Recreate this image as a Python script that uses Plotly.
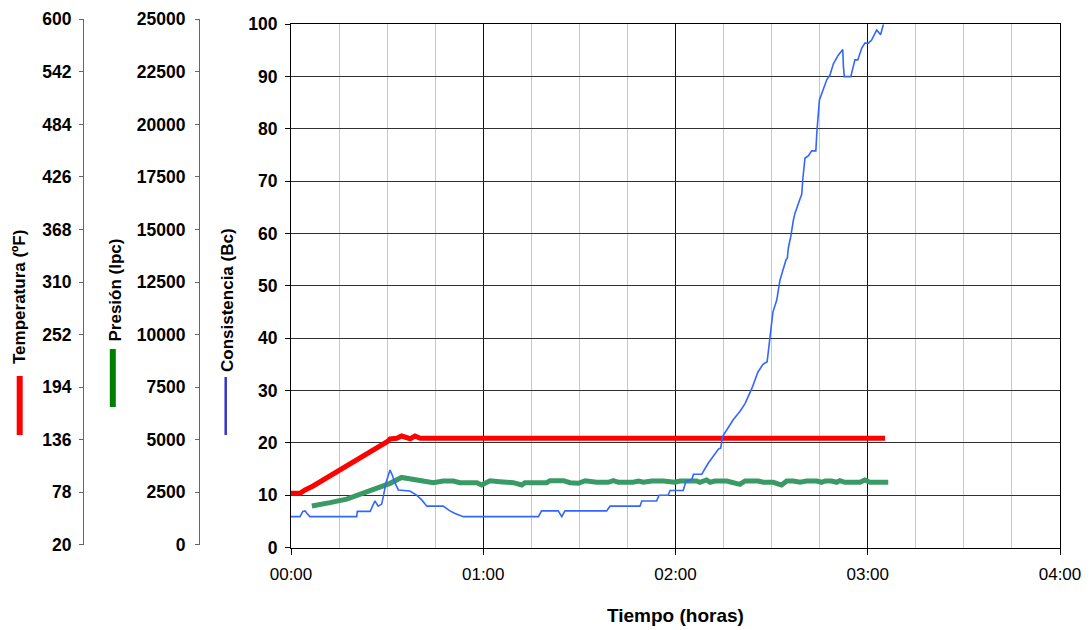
import pandas as pd
import plotly.graph_objects as go

# ---------------- data (time in minutes from start) ----------------
temp_min = [0, 2.8, 4.4, 6.9, 30.0, 30.9, 33.0, 34.5, 37.2, 38.7, 40.3, 185.4]
temp_f = [76.7, 76.7, 80.4, 84.8, 133.7, 136.7, 137.5, 140.0, 137.0, 140.0, 137.5, 137.5]

pres_min = [6.5, 8.4, 12.2, 17.4, 22.6, 27.8, 30.9, 34.5, 38.2, 41.3, 44.4, 47.5,
            50.7, 52.7, 58.0, 59.5, 61.1, 62.1, 65.2, 69.4, 72.0, 73.0, 79.8, 80.8,
            85.0, 87.1, 89.7, 91.8, 95.4, 99.0, 100.6, 102.2, 106.8, 108.4, 110.0,
            112.6, 116.2, 118.3, 119.8, 121.4, 126.6, 127.6, 129.7, 130.8, 132.3,
            136.0, 138.0, 140.1, 141.7, 145.8, 147.4, 150.5, 153.1, 154.7, 156.8,
            158.9, 160.9, 164.1, 165.6, 166.7, 168.7, 170.3, 171.3, 172.9, 177.6,
            179.1, 180.7, 186.4]
pres_psi = [1840, 1880, 2000, 2170, 2470, 2710, 2920, 3200, 3110, 3030, 2950, 3030,
            3030, 2950, 2950, 2840, 2950, 3045, 3000, 2950, 2840, 2950, 2950, 3045,
            3045, 2950, 2920, 3045, 2970, 2970, 3045, 2970, 2970, 3030, 2970,
            3030, 3030, 2970, 2970, 3030, 3030, 2970, 3080, 2970, 3030,
            3030, 2970, 2870, 3030, 3030, 2970, 2970, 2840, 3030, 3030,
            2970, 3030, 3030, 2970, 3030, 3030, 2970, 3050, 2970, 2970,
            3080, 2970, 2970]

cons_min = [0, 2.8, 3.7, 4.4, 5.0, 5.9, 20.5, 20.7, 24.7, 26.2, 27.2, 28.3, 28.9,
            29.6, 30.9, 31.5, 32.5, 33.5, 37.1, 39.2, 40.8, 42.4, 47.5, 49.6, 51.2,
            53.8, 77.2, 78.2, 83.4, 84.5, 85.5, 98.5, 99.6, 108.9, 109.5, 114.1,
            114.9, 117.7, 118.3, 122.4, 123.3, 125.1, 125.6, 128.2, 130.2, 133.4,
            134.1, 134.7, 138.0, 140.1, 141.7, 143.9, 145.7, 147.3, 148.6, 149.5,
            150.4, 151.6, 152.6, 154.5, 154.9, 155.2, 156.0, 156.8, 157.3, 158.9,
            159.4, 159.7, 160.4, 161.5, 162.5, 163.8, 164.1, 164.9, 167.2, 168.2,
            169.3, 170.8, 172.2, 172.4, 172.7, 174.7, 175.5, 176.0, 176.9, 178.1,
            179.1, 180.2, 181.2, 182.8, 184.0, 184.9]
cons_bc = [5.9, 5.9, 6.9, 7.0, 6.5, 5.9, 5.9, 6.9, 6.9, 8.9, 7.9, 8.3, 10.0,
           12.3, 14.8, 14.0, 12.3, 11.0, 10.8, 10.0, 9.1, 7.9, 7.9, 7.0, 6.5,
           5.9, 5.9, 7.0, 7.0, 5.9, 7.0, 7.0, 7.9, 7.9, 8.9, 8.9,
           10.0, 10.0, 10.9, 10.9, 12.7, 13.0, 14.0, 14.0, 16.1, 18.8,
           19.0, 21.2, 24.4, 26.0, 27.5, 30.5, 33.5, 35.0, 35.5, 40.0,
           45.0, 47.3, 51.1, 55.0, 55.3, 57.2, 59.5, 62.6, 63.9, 66.7,
           67.5, 70.2, 74.4, 74.9, 75.8, 75.8, 79.2, 85.5, 89.4, 90.3,
           92.5, 94.1, 95.2, 91.9, 90.0, 90.0, 91.9, 93.2, 93.2, 95.4,
           96.4, 96.4, 97.0, 98.9, 98.0, 100.0]

temp_ticks = [20, 78, 136, 194, 252, 310, 368, 426, 484, 542, 600]
pres_ticks = [0, 2500, 5000, 7500, 10000, 12500, 15000, 17500, 20000, 22500, 25000]

# ---------------- frame geometry (pixels) ----------------
W, H = 1091, 630
PLOT_L, PLOT_R = 291, 1060
PLOT_T, PLOT_B = 24.3, 547.5          # consistency frame
AX_T, AX_B = 19.3, 544.7              # temperature / pressure scales
TEMP_X, PRES_X = 83, 199


def px(x):
    return x / W


def py(y):
    return (H - y) / H


base = pd.Timestamp("2000-01-01 00:00")


def to_time(minutes):
    return base + pd.to_timedelta(minutes, unit="m")


# temperature / pressure series share the plot frame; their ranges are
# stretched so values line up with the side scales drawn at the left
def stretched(lo, hi):
    per_px = (hi - lo) / (AX_B - AX_T)
    return [lo - (PLOT_B - AX_B) * per_px, hi + (AX_T - PLOT_T) * per_px]


FONT = "Liberation Sans, Arial, sans-serif"
bold = dict(family=FONT, size=17.5, color="black", weight="bold")

fig = go.Figure()
fig.add_trace(go.Scatter(x=to_time(temp_min), y=temp_f, mode="lines",
                         line=dict(color="#ff0000", width=5),
                         xaxis="x", yaxis="y", showlegend=False))
fig.add_trace(go.Scatter(x=to_time(pres_min), y=pres_psi, mode="lines",
                         line=dict(color="#3a9a66", width=5),
                         xaxis="x", yaxis="y2", showlegend=False))
fig.add_trace(go.Scatter(x=to_time(cons_min), y=cons_bc, mode="lines",
                         line=dict(color="#3366ff", width=1.6),
                         xaxis="x", yaxis="y3", showlegend=False))
# side scales
fig.add_trace(go.Scatter(x=[None], y=[None], xaxis="x2", yaxis="y4",
                         showlegend=False, hoverinfo="skip"))
fig.add_trace(go.Scatter(x=[None], y=[None], xaxis="x2", yaxis="y5",
                         showlegend=False, hoverinfo="skip"))

main_dom = [py(PLOT_B), py(PLOT_T)]
side_dom = [py(AX_B), py(AX_T)]
x_dom = [px(PLOT_L), px(PLOT_R)]

fig.update_layout(
    width=W, height=H, autosize=False,
    margin=dict(l=0, r=0, t=0, b=0, autoexpand=False),
    paper_bgcolor="white", plot_bgcolor="rgba(0,0,0,0)",
    font=dict(family=FONT, color="black"),
    xaxis=dict(
        domain=x_dom, anchor="y", type="date", automargin=False,
        range=[base, base + pd.Timedelta(hours=4)],
        tick0=base, dtick=3600000, tickformat="%H:%M",
        showgrid=True, gridcolor="#111111", gridwidth=1,
        minor=dict(dtick=900000, showgrid=True, gridcolor="#c8c8c8", ticks=""),
        showline=True, linecolor="black", linewidth=1, mirror=True,
        ticks="outside", ticklen=6, tickcolor="black",
        tickfont=dict(family=FONT, size=17, color="black"),
        ticklabelstandoff=5,
    ),
    yaxis=dict(domain=main_dom, anchor="x", visible=False, automargin=False,
               range=stretched(20, 600), showgrid=False),
    yaxis2=dict(overlaying="y", anchor="x", visible=False, automargin=False,
                range=stretched(0, 25000), showgrid=False),
    yaxis3=dict(
        overlaying="y", anchor="x", side="left", range=[0, 100], dtick=10,
        automargin=False,
        showgrid=True, gridcolor="#303030", gridwidth=1, zeroline=False,
        showline=True, linecolor="black", linewidth=1, mirror=True,
        ticks="outside", ticklen=5, tickcolor="black", tickfont=bold,
        ticklabelstandoff=4,
    ),
    xaxis2=dict(domain=x_dom, anchor="y4", visible=False, range=[0, 1],
                automargin=False),
    yaxis4=dict(
        domain=side_dom, anchor="free", position=px(TEMP_X), side="left",
        automargin=False,
        range=[20, 600], tickvals=temp_ticks, tickformat="d",
        showgrid=False, zeroline=False,
        showline=True, linecolor="#666666", linewidth=1,
        ticks="outside", ticklen=4, tickcolor="#666666", tickfont=bold,
        ticklabelstandoff=4,
    ),
    yaxis5=dict(
        overlaying="y4", anchor="free", position=px(PRES_X), side="left",
        automargin=False,
        range=[0, 25000], tickvals=pres_ticks, tickformat="d",
        showgrid=False, zeroline=False,
        showline=True, linecolor="#666666", linewidth=1,
        ticks="outside", ticklen=4, tickcolor="#666666", tickfont=bold,
        ticklabelstandoff=6,
    ),
)

# axis titles with their series keys
titles = [
    ("Temperatura (ºF)", 20, 366, "#ff0000", 19.7, 376, 435, 6),
    ("Presión (lpc)", 115, 344, "#008000", 112.8, 349, 407, 6),
    ("Consistencia (Bc)", 227, 374, "#3333cc", 225.7, 377, 435, 2.5),
]
for text, tx, ty, col, kx, k0, k1, kw in titles:
    fig.add_annotation(text=text, xref="paper", yref="paper", x=px(tx), y=py(ty),
                       xanchor="center", yanchor="bottom", textangle=-90,
                       showarrow=False, font=dict(family=FONT, size=17,
                                                  color="black", weight="bold"))
    fig.add_shape(type="line", xref="paper", yref="paper",
                  x0=px(kx), x1=px(kx), y0=py(k0), y1=py(k1),
                  line=dict(color=col, width=kw))

fig.add_annotation(text="Tiempo (horas)", xref="paper", yref="paper",
                   x=px((PLOT_L + PLOT_R) / 2), y=py(615), xanchor="center",
                   yanchor="middle", showarrow=False,
                   font=dict(family=FONT, size=19, color="black", weight="bold"))

fig.write_html("out.html")
